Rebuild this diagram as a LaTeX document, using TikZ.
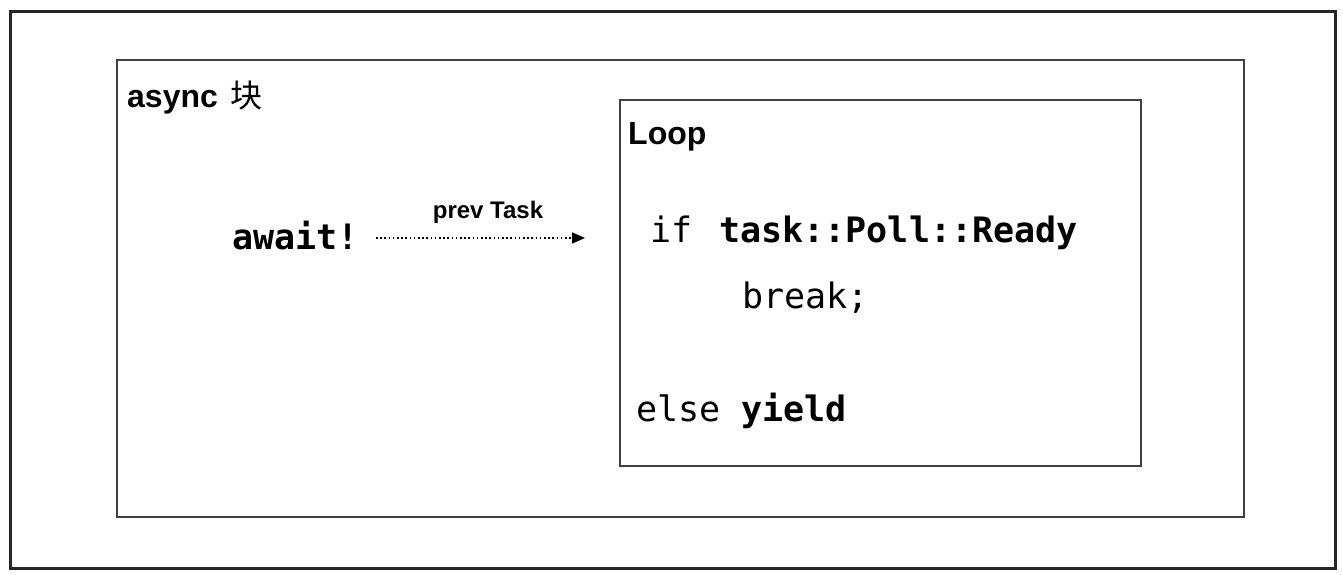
\documentclass[tikz,border=0pt]{standalone}
\usepackage{fontspec}
\setmainfont{Liberation Sans}
\setmonofont{DejaVu Sans Mono}
\newfontfamily\cjk{Noto Sans CJK SC}
\usetikzlibrary{arrows.meta}
\begin{document}
\begin{tikzpicture}[x=1pt,y=-1pt,
  frame/.style={draw=black!85,line width=3pt},
  box/.style={draw=black!75,line width=2pt,anchor=north west,inner sep=0pt,outer sep=0pt},
  lbl/.style={anchor=base west,inner sep=0pt,font=\fontsize{32}{32}\selectfont\bfseries},
  code/.style={anchor=base west,inner sep=0pt,font=\fontsize{35}{35}\selectfont\ttfamily},
  small/.style={anchor=base,inner sep=0pt,font=\fontsize{24}{24}\selectfont\bfseries},
  flow/.style={line width=1.6pt,dash pattern=on 1.6pt off 2.6pt,-{Triangle[length=13pt,width=11pt]}}]
\useasboundingbox (0,0) rectangle (1343,575);
\fill[white] (0,0) rectangle (1343,575);
\draw[frame] (10,12) rectangle (1335,568);
\node[box,minimum width=1127pt,minimum height=457pt] (asyncbox) at (117,60) {};
\node[box,minimum width=521pt,minimum height=366pt] (loopbox) at (620,100) {};
\node[lbl] (asynclbl) at (127,108) {async\hspace{13pt}{\cjk\mdseries 块}};
\node[lbl] (loop) at (628,145) {Loop};
\node[code] (await) at (232,249) {\bfseries await!};
\node[code] (if) at (650,242) {if\hspace{6pt} \textbf{task::Poll::Ready}};
\node[code] (brk) at (742,308) {break;};
\node[code] (else) at (636,421) {else \textbf{yield}};
\coordinate (arrS) at (376,238);
\coordinate (arrE) at (585,238);
\draw[flow] (arrS) -- (arrE);
\node[small] (prev) at (488,218) {prev Task};
\end{tikzpicture}
\end{document}
